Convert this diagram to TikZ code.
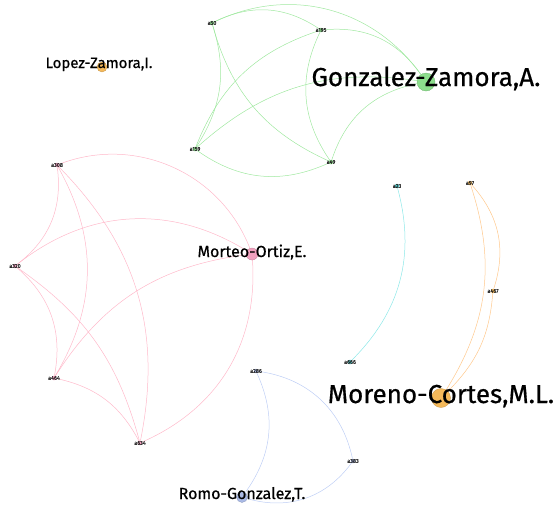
\documentclass[tikz,border=0pt]{standalone}
\usepackage{fontspec}
\setmainfont{Fira Sans}
\pgfdeclarelayer{bg}
\pgfsetlayers{bg,main}
\definecolor{gfill}{RGB}{140,222,140}
\definecolor{gedge}{RGB}{160,232,160}
\definecolor{pfill}{RGB}{240,160,190}
\definecolor{pedge}{RGB}{255,185,202}
\definecolor{cfill}{RGB}{80,200,200}
\definecolor{cedge}{RGB}{140,232,232}
\definecolor{ofill}{RGB}{245,185,90}
\definecolor{oedge}{RGB}{255,200,140}
\definecolor{bfill}{RGB}{170,186,230}
\definecolor{bedge}{RGB}{190,206,245}
\tikzset{
  dot/.style={circle, fill=#1, inner sep=0pt, minimum size=4.5pt},
  hub/.style={circle, fill=#1, draw=#1!80!black, line width=0.3pt, inner sep=0pt},
  tinylab/.style={font=\fontsize{5.5}{6}\selectfont\addfontfeature{FakeBold=0.4}, text=black!85, inner sep=0pt},
  biglab/.style={font=\fontsize{26}{28}\selectfont\addfontfeature{FakeBold=0.6}, anchor=base, inner sep=0pt},
  midlab/.style={font=\fontsize{16}{18}\selectfont\addfontfeature{FakeBold=0.6}, anchor=base, inner sep=0pt},
  edge/.style={draw=#1, line width=0.5pt}
}
\begin{document}
\begin{tikzpicture}[x=1pt,y=-1pt]
\useasboundingbox (0,0) rectangle (560,507);
% green cluster
\node[dot=gfill] (a50) at (212,23) {};
\node[dot=gfill] (a195) at (321,30) {};
\node[dot=gfill] (a159) at (195,149) {};
\node[dot=gfill] (a49) at (331,162) {};
\node[hub=gfill, minimum size=18pt] (gz) at (426,82) {};
\node[tinylab] at (a50) {a50};
\node[tinylab] at (a195) {a195};
\node[tinylab] at (a159) {a159};
\node[tinylab] at (a49) {a49};
\node[biglab] (gzl) at (426,86) {Gonzalez-Zamora,A.};
% pink cluster
\node[dot=pfill] (a308) at (57,165) {};
\node[dot=pfill] (a320) at (15,266) {};
\node[dot=pfill] (a464) at (54,378) {};
\node[dot=pfill] (a634) at (140,443) {};
\node[hub=pfill, minimum size=12pt] (mo) at (252,254) {};
\node[tinylab] at (a308) {a308};
\node[tinylab] at (a320) {a320};
\node[tinylab] at (a464) {a464};
\node[tinylab] at (a634) {a634};
\node[midlab] (mol) at (252,257) {Morteo-Ortiz,E.};
% cyan
\node[dot=cfill] (a23) at (397,186) {};
\node[dot=cfill] (a666) at (350,362) {};
\node[tinylab] at (a23) {a23};
\node[tinylab] at (a666) {a666};
% orange
\node[dot=ofill] (a97) at (470,183) {};
\node[dot=ofill] (a467) at (493,291) {};
\node[hub=ofill, minimum size=19pt] (mc) at (441,398) {};
\node[tinylab] at (a97) {a97};
\node[tinylab] at (a467) {a467};
\node[biglab] (mcl) at (441,403) {Moreno-Cortes,M.L.};
% blue
\node[dot=bfill] (a286) at (256,371) {};
\node[dot=bfill] (a383) at (353,461) {};
\node[hub=bfill, minimum size=11pt] (rg) at (242,497) {};
\node[tinylab] at (a286) {a286};
\node[tinylab] at (a383) {a383};
\node[midlab] (rgl) at (242,499) {Romo-Gonzalez,T.};
% isolated
\node[hub=ofill, minimum size=10pt] (lz) at (102,67) {};
\node[midlab, font=\fontsize{15}{17}\selectfont\addfontfeature{FakeBold=0.6}] (lzl) at (99,68) {Lopez-Zamora,I.};
\begin{pgfonlayer}{bg}
\draw[edge=gedge] (a50) to[bend left=30] (a195);
\draw[edge=gedge] (a50) to[bend left=40] (gz);
\draw[edge=gedge] (a195) to[bend left=30] (gz);
\draw[edge=gedge] (a159) to[bend left=25] (gz);
\draw[edge=gedge] (a49) to[bend left=30] (gz);
\draw[edge=gedge] (a50) to[bend left=25] (a159);
\draw[edge=gedge] (a50) to[bend right=25] (a49);
\draw[edge=gedge] (a195) to[bend right=25] (a159);
\draw[edge=gedge] (a195) to[bend right=30] (a49);
\draw[edge=gedge] (a159) to[bend right=30] (a49);
\draw[edge=pedge] (a308) to[bend left=45] (mo);
\draw[edge=pedge] (a320) to[bend left=35] (mo);
\draw[edge=pedge] (a464) to[bend left=25] (mo);
\draw[edge=pedge] (mo) to[bend left=35] (a634);
\draw[edge=pedge] (a308) to[bend left=30] (a320);
\draw[edge=pedge] (a308) to[bend left=30] (a464);
\draw[edge=pedge] (a308) to[bend left=28] (a634);
\draw[edge=pedge] (a320) to[bend left=30] (a464);
\draw[edge=pedge] (a320) to[bend left=20] (a634);
\draw[edge=pedge] (a464) to[bend left=25] (a634);
\draw[edge=cedge] (a23) to[bend left=30] (a666);
\draw[edge=oedge] (a97) to[bend left=30] (a467);
\draw[edge=oedge] (a97) to[bend left=25] (mc);
\draw[edge=oedge] (a467) to[bend left=20] (mc);
\draw[edge=bedge] (a286) to[bend left=35] (a383);
\draw[edge=bedge] (a286) to[bend left=30] (rg);
\draw[edge=bedge] (a383) to[bend left=35] (rg);
\end{pgfonlayer}
\end{tikzpicture}
\end{document}
